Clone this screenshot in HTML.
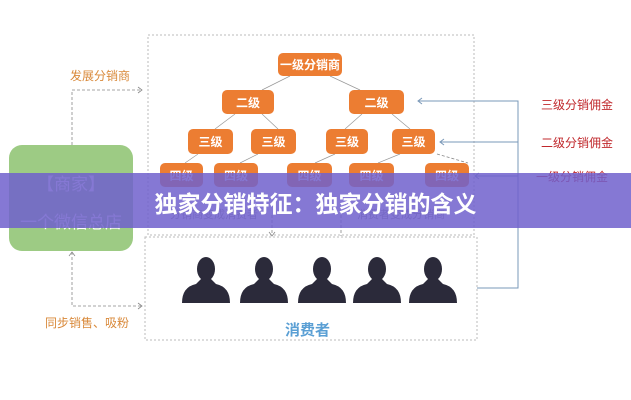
<!DOCTYPE html>
<html><head><meta charset="utf-8"><style>
body{margin:0;width:631px;height:400px;background:#fff;overflow:hidden;font-family:"Liberation Sans","Noto Sans CJK SC",sans-serif;position:relative}
.n{position:absolute;background:#ec7d32;color:#fff;border-radius:5px;font-size:12px;font-weight:bold;display:flex;align-items:center;justify-content:center}
.t{position:absolute;white-space:nowrap}
</style></head><body>
<svg width="631" height="400" style="position:absolute;left:0;top:0">
<defs>
<g id="p" fill="#2b2a3a"><ellipse cx="0" cy="12" rx="9" ry="12"/><path d="M-24,46 Q-24,30 -10,27 L-5,22 5,22 10,27 Q24,30 24,46 Z"/></g>
</defs>
<g stroke="#bbb" stroke-width="1" fill="none" stroke-dasharray="2,2">
<rect x="148" y="35" width="326" height="200"/>
<rect x="145" y="237" width="332" height="103"/>
</g>
<g stroke="#888" stroke-width="0.8" fill="none" stroke-dasharray="3,2">
<polyline points="72,145 72,90 142,90"/>
<polyline points="72,252 72,306 142,306"/>
<line x1="272" y1="215" x2="272" y2="236"/>
<line x1="341" y1="215" x2="341" y2="236"/>
<line x1="437" y1="154" x2="468" y2="163"/>
</g>
<g stroke="#888" stroke-width="0.8" fill="none">
<polyline points="138,87 142,90 138,93"/><polyline points="138,303 142,306 138,309"/>
<polyline points="69,256 72,252 75,256"/>
<polyline points="269,232 272,236 275,232"/>
</g>
<g stroke="#999" stroke-width="0.7">
<line x1="290" y1="76" x2="262" y2="90"/><line x1="330" y1="76" x2="360" y2="90"/>
<line x1="235" y1="114" x2="215" y2="129"/><line x1="262" y1="114" x2="278" y2="129"/>
<line x1="362" y1="114" x2="345" y2="129"/><line x1="392" y1="114" x2="410" y2="129"/>
<line x1="198" y1="154" x2="185" y2="163"/><line x1="258" y1="154" x2="240" y2="163"/>
<line x1="335" y1="154" x2="315" y2="163"/><line x1="400" y1="154" x2="378" y2="163"/>
</g>
<g stroke="#7a98b8" stroke-width="1" fill="none">
<polyline points="418,101 518,101 518,288 477,288"/>
<line x1="440" y1="142" x2="518" y2="142"/><line x1="475" y1="176" x2="518" y2="176"/>
<polyline points="422,98 418,101 422,104"/><polyline points="444,139 440,142 444,145"/><polyline points="479,173 475,176 479,179"/>
</g>
<use href="#p" x="206" y="257"/><use href="#p" x="264" y="257"/><use href="#p" x="322" y="257"/><use href="#p" x="377" y="257"/><use href="#p" x="433" y="257"/>
</svg>
<div style="position:absolute;left:9px;top:145px;width:124px;height:106px;background:#9dcb84;border-radius:13px"></div>
<div class="t" style="left:9px;width:124px;text-align:center;top:170px;color:#fff;font-size:17px">【商家】</div>
<div class="t" style="left:9px;width:124px;text-align:center;top:208px;color:#fff;font-size:17px">一个微信总店</div>
<div class="t" style="left:70px;top:67px;color:#d9893a;font-size:12px">发展分销商</div>
<div class="t" style="left:45px;top:314px;color:#d9893a;font-size:12px">同步销售、吸粉</div>
<div class="t" style="left:541px;top:96px;color:#c0282c;font-size:12px">三级分销佣金</div>
<div class="t" style="left:541px;top:134px;color:#c0282c;font-size:12px">二级分销佣金</div>
<div class="t" style="left:536px;top:168px;color:#c0282c;font-size:12px">一级分销佣金</div>
<div class="t" style="left:285px;top:319px;color:#5a9fd4;font-size:15px;font-weight:bold">消费者</div>
<div class="t" style="left:170px;top:206px;color:#999;font-size:11px">分销商变成消费者</div>
<div class="t" style="left:357px;top:206px;color:#999;font-size:11px">消费者变成分销商</div>
<div class="n" style="left:278px;top:53px;width:64px;height:23px">一级分销商</div>
<div class="n" style="left:222px;top:90px;width:52px;height:24px">二级</div>
<div class="n" style="left:349px;top:90px;width:55px;height:24px">二级</div>
<div class="n" style="left:188px;top:129px;width:45px;height:25px">三级</div>
<div class="n" style="left:251px;top:129px;width:45px;height:25px">三级</div>
<div class="n" style="left:326px;top:129px;width:42px;height:25px">三级</div>
<div class="n" style="left:392px;top:129px;width:43px;height:25px">三级</div>
<div class="n" style="left:160px;top:163px;width:43px;height:24px">四级</div>
<div class="n" style="left:214px;top:163px;width:44px;height:24px">四级</div>
<div class="n" style="left:287px;top:163px;width:45px;height:24px">四级</div>
<div class="n" style="left:349px;top:163px;width:45px;height:24px">四级</div>
<div class="n" style="left:425px;top:163px;width:44px;height:24px">四级</div>
<div style="position:absolute;left:0;top:173px;width:631px;height:55px;background:rgba(112,96,204,0.85)"></div>
<div class="t" style="left:0;width:631px;text-align:center;top:185px;color:#fff;font-size:23px;font-weight:bold">独家分销特征：独家分销的含义</div>
</body></html>
